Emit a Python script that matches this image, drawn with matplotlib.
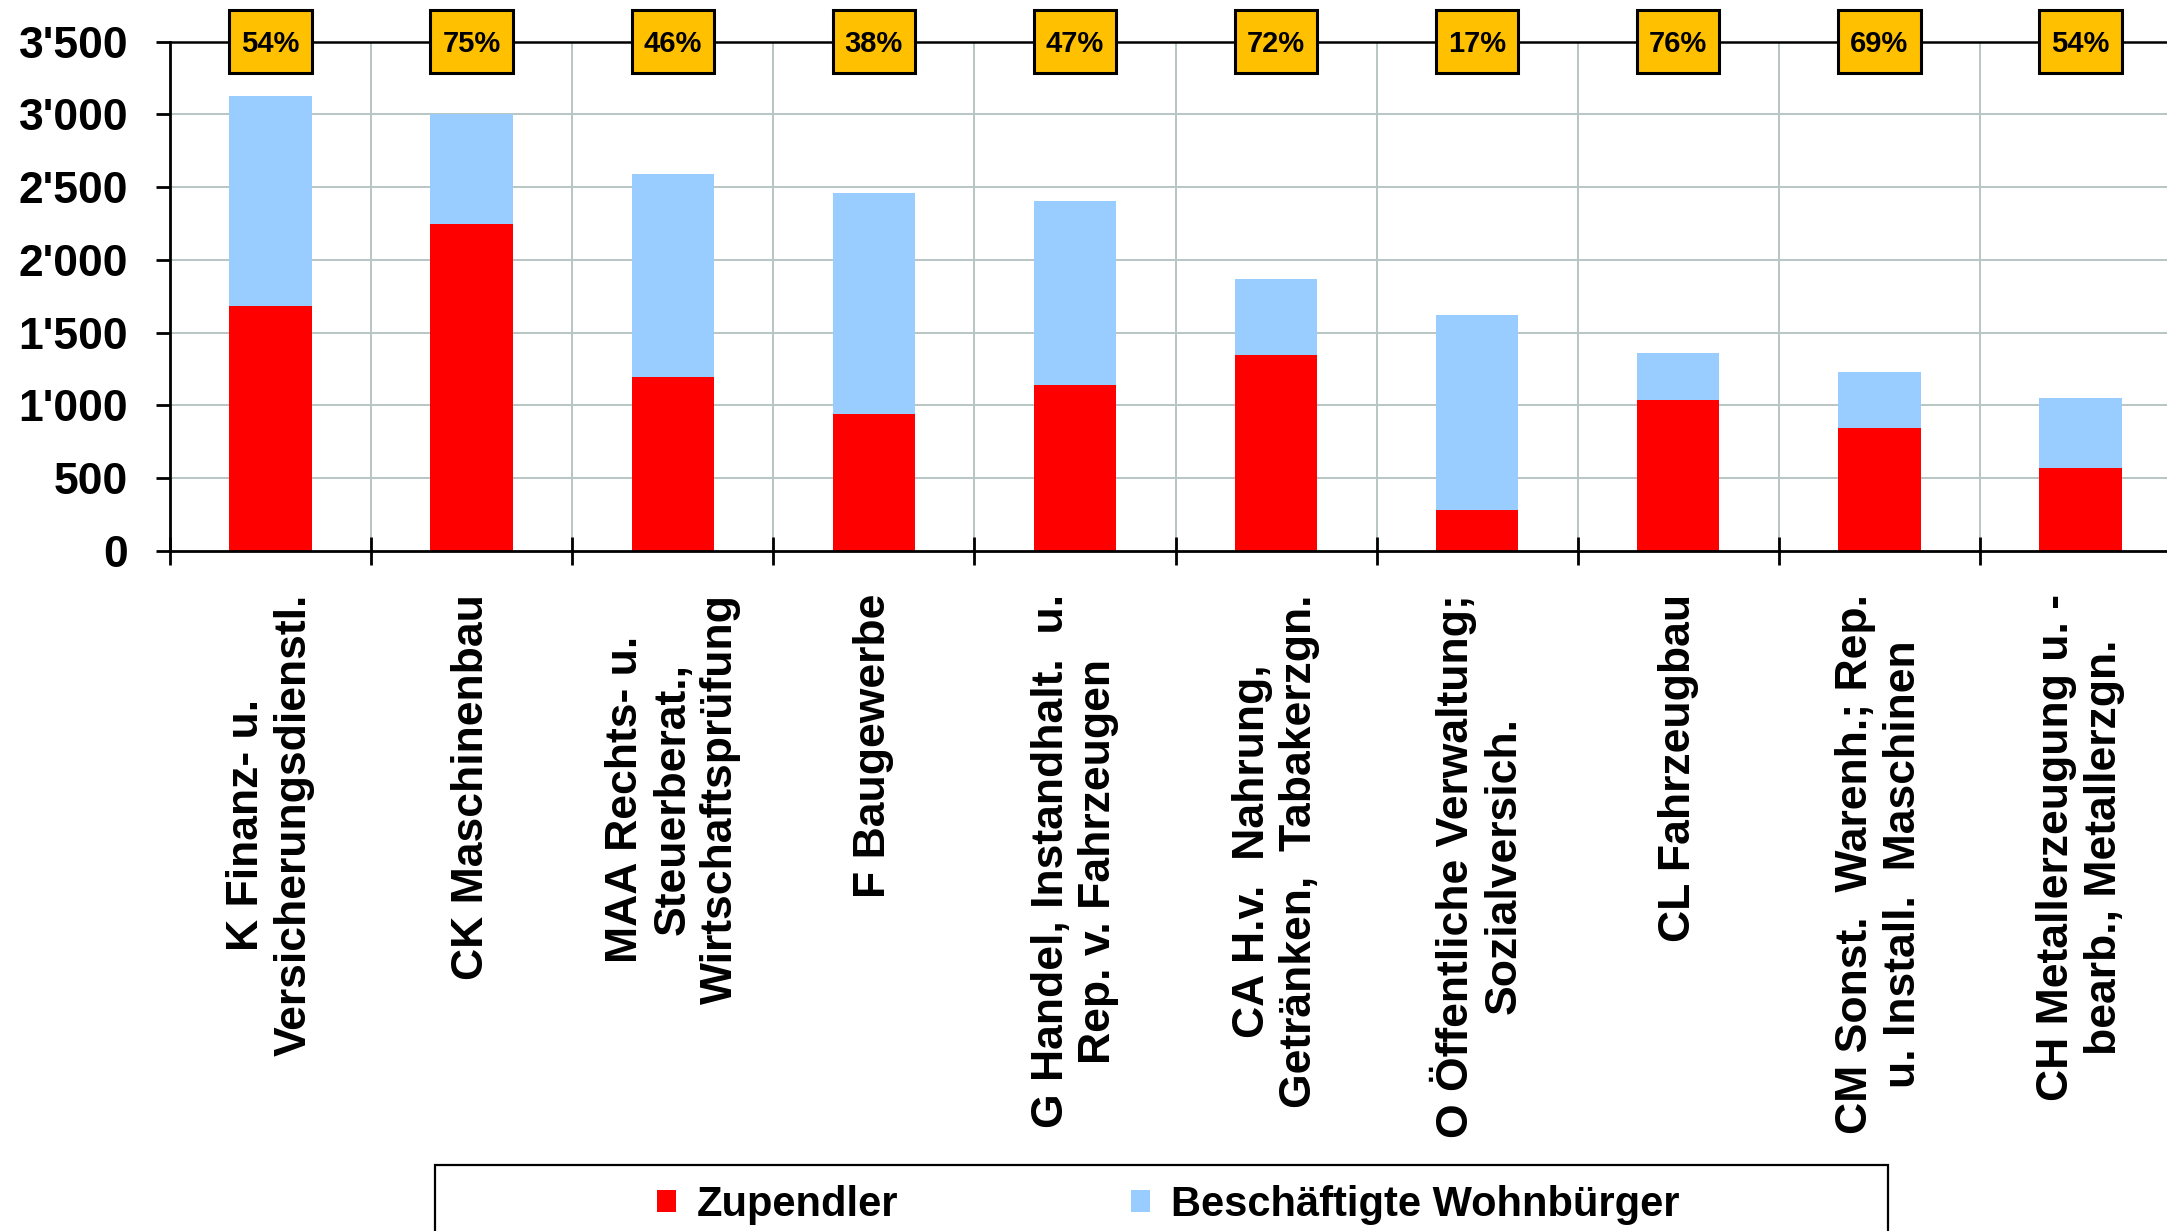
import matplotlib
matplotlib.use("Agg")
import matplotlib.pyplot as plt
from matplotlib.patches import Rectangle, Patch
from matplotlib.ticker import FuncFormatter, FixedLocator
import numpy as np

categories = [
    "K Finanz- u.\nVersicherungsdienstl.",
    "CK Maschinenbau",
    "MAA Rechts- u.\nSteuerberat.,\nWirtschaftsprüfung",
    "F Baugewerbe",
    "G Handel, Instandhalt.  u.\nRep. v. Fahrzeugen",
    "CA H.v.  Nahrung,\nGetränken,  Tabakerzgn.",
    "O Öffentliche Verwaltung;\nSozialversich.",
    "CL Fahrzeugbau",
    "CM Sonst.  Warenh.; Rep.\nu. Install.  Maschinen",
    "CH Metallerzeugung u. -\nbearb., Metallerzgn.",
]
zupendler = [1685, 2249, 1194, 939, 1141, 1343, 281, 1036, 848, 569]
wohnbuerger = [1440, 753, 1393, 1520, 1265, 525, 1343, 323, 383, 483]
share_labels = ["54%", "75%", "46%", "38%", "47%", "72%", "17%", "76%", "69%", "54%"]
series_names = ["Zupendler", "Beschäftigte Wohnbürger"]
yticks = [0, 500, 1000, 1500, 2000, 2500, 3000, 3500]

plt.rcParams['font.family'] = ['Liberation Sans', 'DejaVu Sans']
plt.rcParams['font.weight'] = 'bold'

W, H = 2167, 1231
fig = plt.figure(figsize=(W / 100, H / 100), dpi=100)
left, right, top, bottom = 170, 2181, 41.5, 551
ax = fig.add_axes([left / W, 1 - bottom / H, (right - left) / W, (bottom - top) / H])

RED = "#FF0000"
BLUE = "#99CCFF"
GOLD = "#FFC000"
GRID = "#B7C6C4"

x = np.arange(len(categories))
bw = 0.41
ax.bar(x, zupendler, width=bw, color=RED, zorder=3, label=series_names[0])
ax.bar(x, wohnbuerger, width=bw, bottom=zupendler, color=BLUE, zorder=3, label=series_names[1])

ax.set_xlim(-0.5, len(categories) - 0.5)
ax.set_ylim(0, 3500)

# grid
ax.set_yticks(yticks)
ax.yaxis.set_major_formatter(FuncFormatter(lambda v, p: f"{int(v):,}".replace(",", "'")))
for yv in yticks[1:]:
    ax.axhline(yv, color=GRID, lw=1.4, zorder=1)
for xv in np.arange(0.5, len(categories) - 0.5, 1.0):
    ax.axvline(xv, color=GRID, lw=1.4, zorder=1)

# black line at top with share boxes
ax.axhline(3500, color="black", lw=1.8, zorder=4, clip_on=False)
for i, lab in enumerate(share_labels):
    r = Rectangle((i - bw / 2, 3285), bw, 430, facecolor=GOLD, edgecolor="black",
                  lw=2.2, zorder=5, clip_on=False)
    ax.add_patch(r)
    ax.text(i, 3485, lab, ha="center", va="center", fontsize=21, fontweight="bold",
            zorder=6, clip_on=False)

for s in ["top", "right"]:
    ax.spines[s].set_visible(False)
for s in ["left", "bottom"]:
    ax.spines[s].set_linewidth(2)
    ax.spines[s].set_color("black")
    ax.spines[s].set_zorder(4)

ax.tick_params(axis="y", direction="out", length=10, width=2, pad=20, labelsize=32)
for t in ax.get_yticklabels():
    t.set_fontweight("bold")

ax.set_xticks(x)
ax.set_xticklabels(categories, rotation=90, ha="center", va="top",
                   multialignment="center", fontsize=32, fontweight="bold")
ax.tick_params(axis="x", which="major", length=0, pad=31)
ax.xaxis.set_minor_locator(FixedLocator(np.arange(-0.5, len(categories) + 0.5, 1.0)))
ax.tick_params(axis="x", which="minor", direction="inout", length=20, width=2)

# legend frame (extends below figure bottom like the reference)
fx0, fx1, fy_top = 435 / W, 1888 / W, 1 - 1165 / H
frame = Rectangle((fx0, -0.05), fx1 - fx0, fy_top + 0.05, transform=fig.transFigure,
                  facecolor="white", edgecolor="black", lw=1.6, clip_on=False)
fig.patches.append(frame)

handles = [Patch(facecolor=RED, edgecolor="none"), Patch(facecolor=BLUE, edgecolor="none")]
leg = fig.legend(handles, series_names, loc="center left",
                 bbox_to_anchor=(657 / W, 1 - 1205 / H), ncol=2, frameon=False,
                 prop={"size": 30, "weight": "bold"},
                 handlelength=0.45, handleheight=0.45, handletextpad=0.5,
                 columnspacing=5.6, borderpad=0, borderaxespad=0)

fig.savefig("out.png", dpi=100, facecolor="white")
